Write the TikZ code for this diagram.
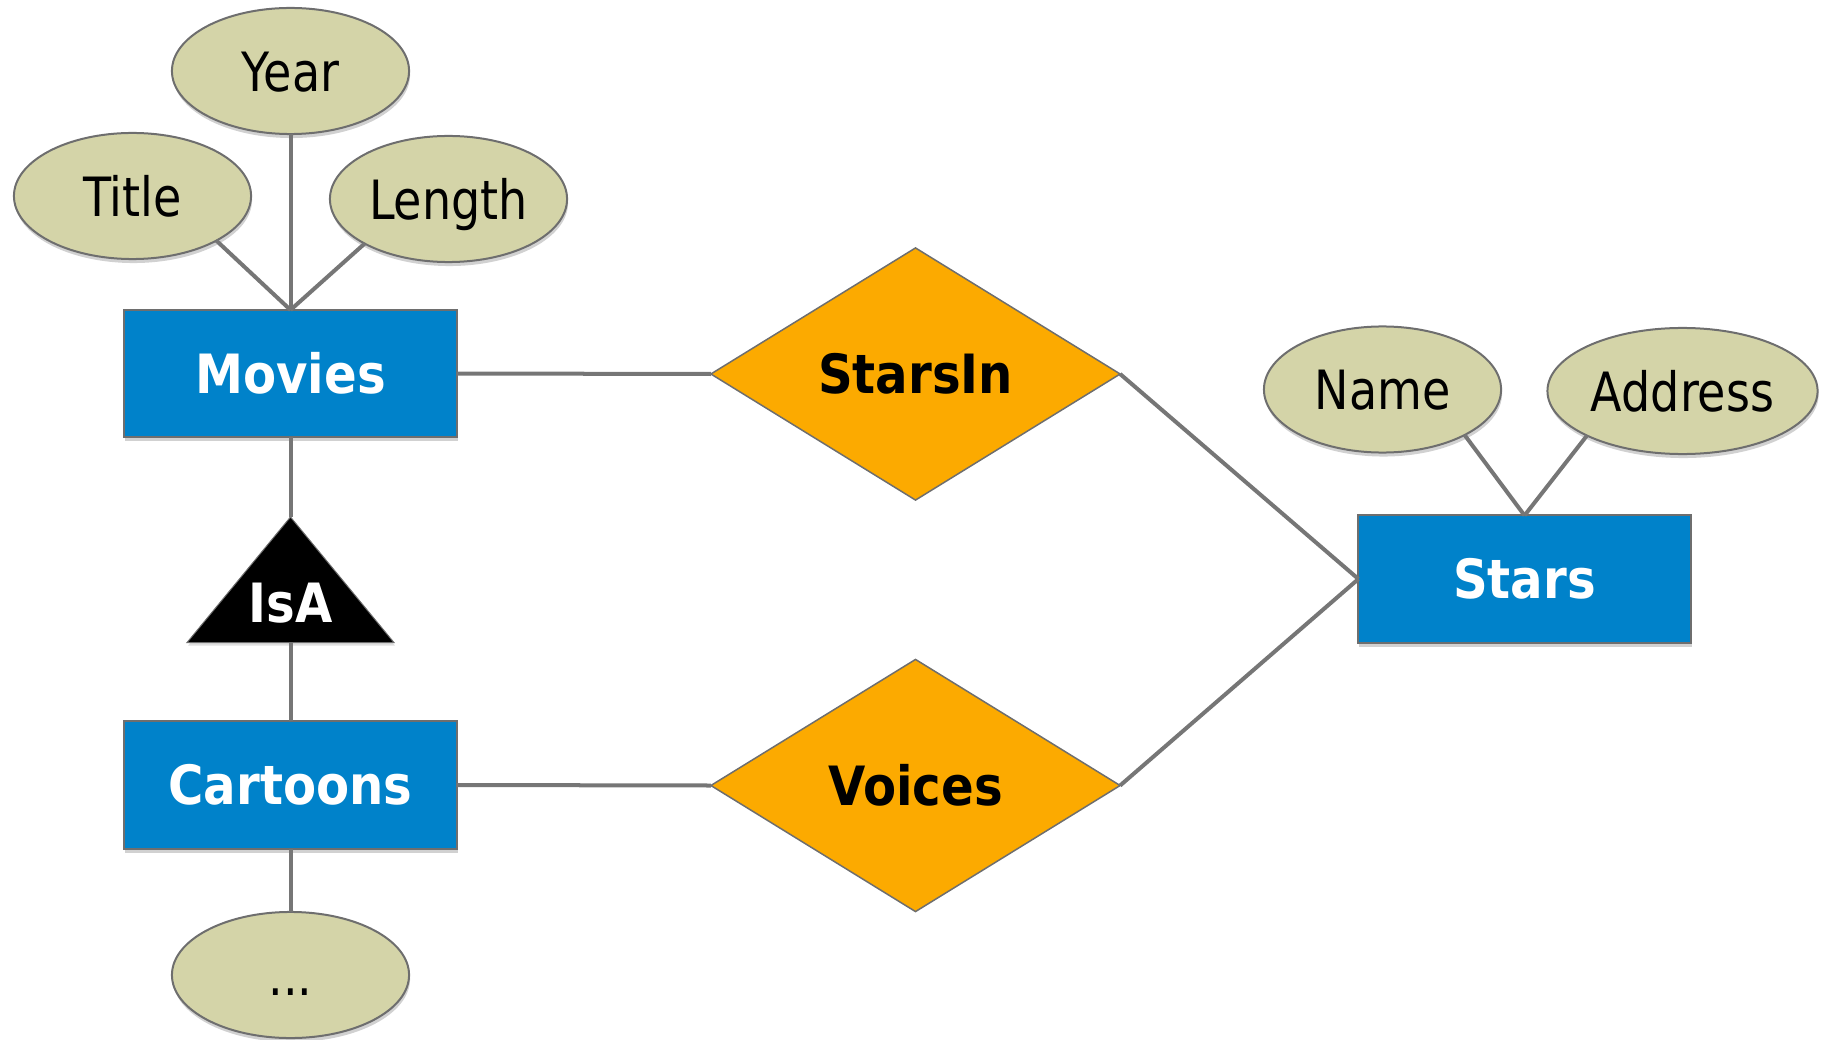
\documentclass[tikz,border=0pt]{standalone}
\usepackage{fontspec}
\usepackage{graphicx}
\setmainfont{DejaVu Sans}
\usetikzlibrary{shapes.geometric,shadows}

\definecolor{entblue}{RGB}{0,130,202}
\definecolor{attrfill}{RGB}{212,212,168}
\definecolor{relfill}{RGB}{252,170,0}
\definecolor{edgegray}{RGB}{118,118,118}
\definecolor{bordergray}{RGB}{110,110,110}

% narrowed labels: bold for entities/relationships, regular for attributes
\newcommand{\boldlabel}[1]{\scalebox{0.89}[1]{\bfseries #1}}
\newcommand{\plainlabel}[1]{\scalebox{0.85}[1]{#1}}

\begin{document}
\begin{tikzpicture}[x=0.01cm,y=-0.01cm,
  every node/.style={font=\fontsize{15.4pt}{18pt}\selectfont, outer sep=0pt, inner sep=0pt},
  softshadow/.style={drop shadow={shadow xshift=0.01cm, shadow yshift=-0.04cm, opacity=0.3, fill=black!60}},
  entity/.style={rectangle, fill=entblue, draw=bordergray, line width=0.02cm,
    minimum width=3.32cm, minimum height=1.27cm, text=white, softshadow},
  attr/.style={ellipse, fill=attrfill, draw=bordergray, line width=0.02cm,
    minimum width=2.37cm, minimum height=1.26cm, text height=0.4cm, text depth=0pt, softshadow},
  rel/.style={diamond, fill=relfill, draw=bordergray, line width=0.015cm,
    minimum width=4.09cm, minimum height=2.52cm},
  link/.style={draw=edgegray, line width=0.04cm}
]
\useasboundingbox (0,0) rectangle (1822,1040);

% attributes of Movies
\node[attr] (year)   at (290.5,71)  {\plainlabel{Year}};
\node[attr] (title)  at (132.5,196) {\plainlabel{Title}};
\node[attr] (length) at (448.5,199) {\plainlabel{Length}};

% entities
\node[entity] (movies)   at (290.5,373.5) {\boldlabel{Movies}};
\node[entity] (cartoons) at (290.5,785)   {\boldlabel{Cartoons}};
\node[entity] (stars)    at (1524.5,579)  {\boldlabel{Stars}};

% remaining attributes
\node[attr] (more) at (290.5,975) {\plainlabel{...}};
\node[attr] (name) at (1382.5,389.5) {\plainlabel{Name}};
\node[attr, minimum width=2.70cm] (address) at (1682.5,391) {\plainlabel{Address}};

% relationships
\node[rel] (starsin) at (915.5,374)   {\boldlabel{StarsIn}};
\node[rel] (voices)  at (915.5,785.5) {\boldlabel{Voices}};

% IsA triangle
\coordinate (isatop)  at (290.5,517);
\coordinate (isabase) at (290.5,642.6);
\fill[black, draw=bordergray, line width=0.01cm, drop shadow={shadow xshift=0.01cm, shadow yshift=-0.03cm, opacity=0.25}]
  (isatop) -- (394,642.6) -- (187,642.6) -- cycle;
\node[text=white] (isa) at (290.5,603) {\boldlabel{IsA}};

% connectors
\draw[link] (title.-28)    -- (movies.north);
\draw[link] (year.south)   -- (movies.north);
\draw[link] (length.-152)  -- (movies.north);
\draw[link] (name.-29)     -- (stars.north);
\draw[link] (address.-155) -- (stars.north);
\draw[link] (movies.east)   -- (starsin.west);
\draw[link] (starsin.east)  -- (stars.west);
\draw[link] (cartoons.east) -- (voices.west);
\draw[link] (voices.east)   -- (stars.west);
\draw[link] (movies.south)   -- (isatop);
\draw[link] (isabase)        -- (cartoons.north);
\draw[link] (cartoons.south) -- (more.north);
\end{tikzpicture}
\end{document}
